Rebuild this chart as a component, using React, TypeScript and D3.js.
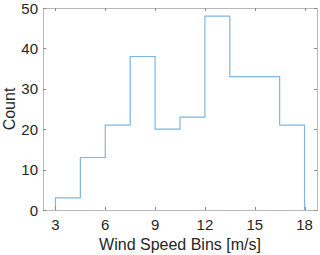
import { useEffect, useRef } from "react";
import * as d3 from "d3";

const binEdges = [3, 4.5, 6, 7.5, 9, 10.5, 12, 13.5, 15, 16.5, 18];
const counts = [3, 13, 21, 38, 20, 23, 48, 33, 33, 21];
const xTicks = [3, 6, 9, 12, 15, 18];
const yTicks = [0, 10, 20, 30, 40, 50];

export default function App() {
  const ref = useRef<SVGSVGElement>(null);
  const width = 320;
  const height = 255;
  const m = { left: 43, right: 3, top: 8, bottom: 45 };

  useEffect(() => {
    const svg = d3.select(ref.current);
    svg.selectAll("*").remove();

    const x = d3.scaleLinear().domain([2.25, 18.75]).range([m.left, width - m.right]);
    const y = d3.scaleLinear().domain([0, 50]).range([height - m.bottom, m.top]);
    const font = "Arial, 'Liberation Sans', sans-serif";
    const textColor = "#262626";

    // stairs outline
    const pts: [number, number][] = [[binEdges[0], 0]];
    counts.forEach((c, i) => {
      pts.push([binEdges[i], c]);
      pts.push([binEdges[i + 1], c]);
    });
    pts.push([binEdges[binEdges.length - 1], 0]);
    const line = d3
      .line<[number, number]>()
      .x((d) => x(d[0]))
      .y((d) => y(d[1]));

    svg
      .append("path")
      .attr("d", line(pts))
      .attr("fill", "none")
      .attr("stroke", "#7fb6e2")
      .attr("stroke-width", 1.2);

    // box
    const x0 = x.range()[0], x1 = x.range()[1];
    const y0 = y.range()[0], y1 = y.range()[1];
    svg
      .append("rect")
      .attr("x", x0)
      .attr("y", y1)
      .attr("width", x1 - x0)
      .attr("height", y0 - y1)
      .attr("fill", "none")
      .attr("stroke", "#b8b8b8")
      .attr("stroke-width", 1)
      .attr("shape-rendering", "crispEdges");

    const tl = 3;
    const tickColor = "#8c8c8c";
    xTicks.forEach((t) => {
      const px = Math.round(x(t)) + 0.5;
      svg.append("line").attr("x1", px).attr("x2", px).attr("y1", y0).attr("y2", y0 - tl).attr("stroke", tickColor);
      svg.append("line").attr("x1", px).attr("x2", px).attr("y1", y1).attr("y2", y1 + tl).attr("stroke", tickColor);
      svg
        .append("text")
        .attr("x", x(t))
        .attr("y", y0 + 20)
        .attr("text-anchor", "middle")
        .attr("font-family", font)
        .attr("font-size", 15)
        .attr("fill", textColor)
        .text(t);
    });
    yTicks.forEach((t) => {
      const py = Math.round(y(t)) + 0.5;
      svg.append("line").attr("x1", x0).attr("x2", x0 + tl).attr("y1", py).attr("y2", py).attr("stroke", tickColor);
      svg.append("line").attr("x1", x1).attr("x2", x1 - tl).attr("y1", py).attr("y2", py).attr("stroke", tickColor);
      svg
        .append("text")
        .attr("x", x0 - 5)
        .attr("y", y(t) + 5.5)
        .attr("text-anchor", "end")
        .attr("font-family", font)
        .attr("font-size", 15)
        .attr("fill", textColor)
        .text(t);
    });

    svg
      .append("text")
      .attr("x", (x0 + x1) / 2)
      .attr("y", y0 + 40)
      .attr("text-anchor", "middle")
      .attr("font-family", font)
      .attr("font-size", 16)
      .attr("fill", textColor)
      .text("Wind Speed Bins [m/s]");

    svg
      .append("text")
      .attr("transform", `translate(15,${(y0 + y1) / 2}) rotate(-90)`)
      .attr("text-anchor", "middle")
      .attr("font-family", font)
      .attr("font-size", 16)
      .attr("fill", textColor)
      .text("Count");
  }, []);

  return (
    <svg
      ref={ref}
      width={width}
      height={height}
      style={{ position: "absolute", left: 0, top: 0, background: "#fff" }}
    />
  );
}
